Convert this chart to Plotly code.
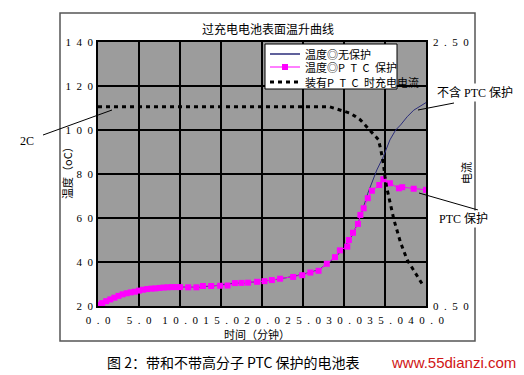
import plotly.graph_objects as go

# ---------------- data ----------------
no_ptc_time = [0, 1, 2, 3, 4, 5, 6, 7, 8, 9, 10, 12, 14, 16, 18, 20, 22, 24, 26,
               27, 28, 29, 30, 31, 32, 32.9, 34.0, 34.8, 35.6, 36.3, 36.9, 37.7, 38.5, 39.5, 40.5]
no_ptc_temp = [20.5, 22.2, 23.8, 25.3, 26.2, 27.0, 27.7, 28.0, 28.4, 28.6, 28.6, 28.5, 29.1, 30.2, 30.6, 31.2, 32.2, 33.6, 35.4,
               36.6, 39.4, 42.3, 46.5, 52.0, 60.5, 71.2, 81.8, 87.9, 95.5, 100.0, 102.3, 106.0, 109.0, 111.4, 113.6]

ptc_time = [0, 0.5, 1, 1.5, 2, 2.5, 3, 3.5, 4, 4.5, 5, 5.5, 6, 6.5, 7, 7.5, 8, 8.5, 9, 9.5, 10,
            11, 12, 12.8, 13.8, 14.9, 15.8, 16.7, 17.5, 18.3, 19.4, 20.3, 21.2,
            22.2, 23.8, 24.9, 25.9, 26.9, 27.9, 28.9, 29.5, 30.4, 30.6,
            31.1, 31.7, 32.0, 32.4, 32.9, 33.4, 34.3, 34.8,
            35.6, 36.7, 37.1, 38.5, 40.0]
ptc_temp = [20.5, 21.3, 22.2, 23.0, 23.8, 24.6, 25.3, 25.8, 26.2, 26.5, 27.0, 27.4, 27.7, 27.9, 28.0, 28.2, 28.4, 28.5, 28.6, 28.6, 28.6,
            28.5, 28.5, 29.1, 29.1, 29.2, 29.3, 30.4, 30.5, 30.6, 31.0, 31.3, 31.8,
            32.4, 33.2, 34.0, 35.2, 36.0, 39.2, 42.2, 45.3, 47.0, 50.0,
            53.3, 57.3, 61.4, 64.4, 69.0, 72.4, 75.0, 77.6,
            75.8, 73.5, 74.0, 73.3, 72.8]

current_time = [0, 5, 10, 15, 20, 25, 28.2, 29.5, 30.8, 32.0, 33.2, 34.2, 34.5, 34.8, 35.0, 35.2, 36.1, 36.9, 37.7, 38.5, 39.6]
current_val = [2.01, 2.01, 2.01, 2.01, 2.01, 2.01, 2.01, 1.985, 1.96, 1.91, 1.83, 1.76, 1.68, 1.58, 1.48, 1.40, 1.15, 0.98, 0.85, 0.77, 0.66]

x_tick_vals = [0, 5, 10, 15, 20, 25, 30, 35, 40]
x_tick_labels = ["0.0", "5.0", "10.0", "15.0", "20.0", "25.0", "30.0", "35.0", "40.0"]
y_tick_vals = [20, 40, 60, 80, 100, 120, 140]
y_tick_labels = ["20", "40", "60", "80", "100", "120", "140"]
y2_tick_vals = [0.5, 2.5]
y2_tick_labels = ["0.50", "2.50"]

legend_names = ["温度◎无保护", "温度◎P T C 保护", "装有P T C 时充电电流"]

# ---------------- layout helpers ----------------
W, H = 524, 375
L, R, T, B = 98, 426, 42, 306


def px(x):
    return (x - L) / (R - L)


def py(y):
    return (B - y) / (B - T)


def spaced(s):
    return "\u2002".join(list(s))


CJK = "Noto Sans CJK SC"
SERIF = "Liberation Serif, Noto Sans CJK SC"


def label(text, x, y, xanchor="center", size=11, family=CJK, **kw):
    return dict(text=text, x=px(x), y=py(y), xref="paper", yref="paper",
                xanchor=xanchor, yanchor="middle", showarrow=False,
                font=dict(family=family, size=size, color=kw.pop("color", "black")), **kw)


fig = go.Figure()
fig.add_trace(go.Scatter(x=no_ptc_time, y=no_ptc_temp, mode="lines", name=legend_names[0],
                         line=dict(color="#2b2d7a", width=1), showlegend=False))
fig.add_trace(go.Scatter(x=ptc_time, y=ptc_temp, mode="lines+markers", name=legend_names[1],
                         line=dict(color="#ff00ff", width=1),
                         marker=dict(symbol="square", size=6, color="#ff00ff"), showlegend=False))
fig.add_trace(go.Scatter(x=current_time, y=current_val, mode="lines", name=legend_names[2], yaxis="y2",
                         line=dict(color="black", width=3, dash="4px,4px"), showlegend=False))

fig.update_layout(
    width=W, height=H,
    margin=dict(l=L, r=W - R, t=T, b=H - B),
    paper_bgcolor="white",
    plot_bgcolor="#9c9c9c",
    xaxis=dict(range=[0, 40], tickvals=x_tick_vals, ticktext=[spaced(t) for t in x_tick_labels],
               showgrid=True, gridcolor="black", gridwidth=1.5, zeroline=False,
               showline=True, linecolor="black", linewidth=1.5, mirror=True,
               ticks="", ticklabelstandoff=3,
               tickfont=dict(family=SERIF, size=11, color="black")),
    yaxis=dict(range=[20, 140], tickvals=y_tick_vals, ticktext=[spaced(t) for t in y_tick_labels],
               showgrid=True, gridcolor="black", gridwidth=1.5, zeroline=False,
               showline=True, linecolor="black", linewidth=1.5, mirror=True,
               ticks="", ticklabelstandoff=1,
               tickfont=dict(family=SERIF, size=11, color="black")),
    yaxis2=dict(range=[0.5, 2.5], overlaying="y", side="right",
                tickvals=y2_tick_vals, ticktext=[spaced(t) for t in y2_tick_labels],
                showgrid=False, zeroline=False, ticks="", ticklabelstandoff=6,
                tickfont=dict(family=SERIF, size=11, color="black")),
)

shapes = []
annotations = []

# outer chart border
shapes.append(dict(type="rect", xref="paper", yref="paper", x0=px(60), x1=px(475), y0=py(13), y1=py(341),
                   line=dict(color="#555555", width=1.5), layer="below"))

# title and axis titles
annotations.append(label("过充电电池表面温升曲线", 268, 28, size=12))
annotations.append(label("时间（分钟）", 257, 334))
annotations.append(label("温度（oC）", 67, 170, textangle=-90))
annotations.append(label("电流", 466, 173, textangle=-90))

# legend (drawn box)
shapes.append(dict(type="rect", xref="paper", yref="paper", x0=px(265), x1=px(397), y0=py(44), y1=py(89),
                   fillcolor="white", line=dict(color="black", width=1)))
rows_y = [54, 67, 82]
shapes.append(dict(type="line", xref="paper", yref="paper", x0=px(270), x1=px(300), y0=py(rows_y[0]), y1=py(rows_y[0]),
                   line=dict(color="#2b2d7a", width=1.5)))
shapes.append(dict(type="line", xref="paper", yref="paper", x0=px(270), x1=px(300), y0=py(rows_y[1]), y1=py(rows_y[1]),
                   line=dict(color="#ff00ff", width=1)))
shapes.append(dict(type="rect", xref="paper", yref="paper", x0=px(282), x1=px(288), y0=py(rows_y[1] - 3), y1=py(rows_y[1] + 3),
                   fillcolor="#ff00ff", line=dict(width=0)))
shapes.append(dict(type="line", xref="paper", yref="paper", x0=px(270), x1=px(302), y0=py(rows_y[2]), y1=py(rows_y[2]),
                   line=dict(color="black", width=3, dash="4px,4px")))
for name, ry in zip(legend_names, rows_y):
    annotations.append(label(name.replace(" ", "\u2002"), 303, ry, xanchor="left", size=11))

# callouts
shapes.append(dict(type="line", xref="paper", yref="paper", x0=px(43), y0=py(135), x1=px(112), y1=py(110),
                   line=dict(color="black", width=1)))
annotations.append(label("2C", 27, 141, size=12, family=SERIF))
shapes.append(dict(type="line", xref="paper", yref="paper", x0=px(454), y0=py(103), x1=px(418), y1=py(110),
                   line=dict(color="black", width=1)))
annotations.append(label("不含 PTC 保护", 475, 92, size=12, family=SERIF, bgcolor="white"))
shapes.append(dict(type="line", xref="paper", yref="paper", x0=px(419), y0=py(193), x1=px(478), y1=py(210),
                   line=dict(color="black", width=1)))
annotations.append(label("PTC 保护", 463, 219, size=12, family=SERIF, bgcolor="white"))

# caption
annotations.append(label("图 2：带和不带高分子 PTC 保护的电池表", 105, 362, xanchor="left", size=14))
annotations.append(label("www.55dianzi.com", 518, 362, xanchor="right", size=15,
                         family="Liberation Sans, Arial", color="#d01515"))

fig.update_layout(shapes=shapes, annotations=annotations)
fig.write_html("out.html", config={"displayModeBar": False},
               post_script="document.body.style.margin='0px';")
